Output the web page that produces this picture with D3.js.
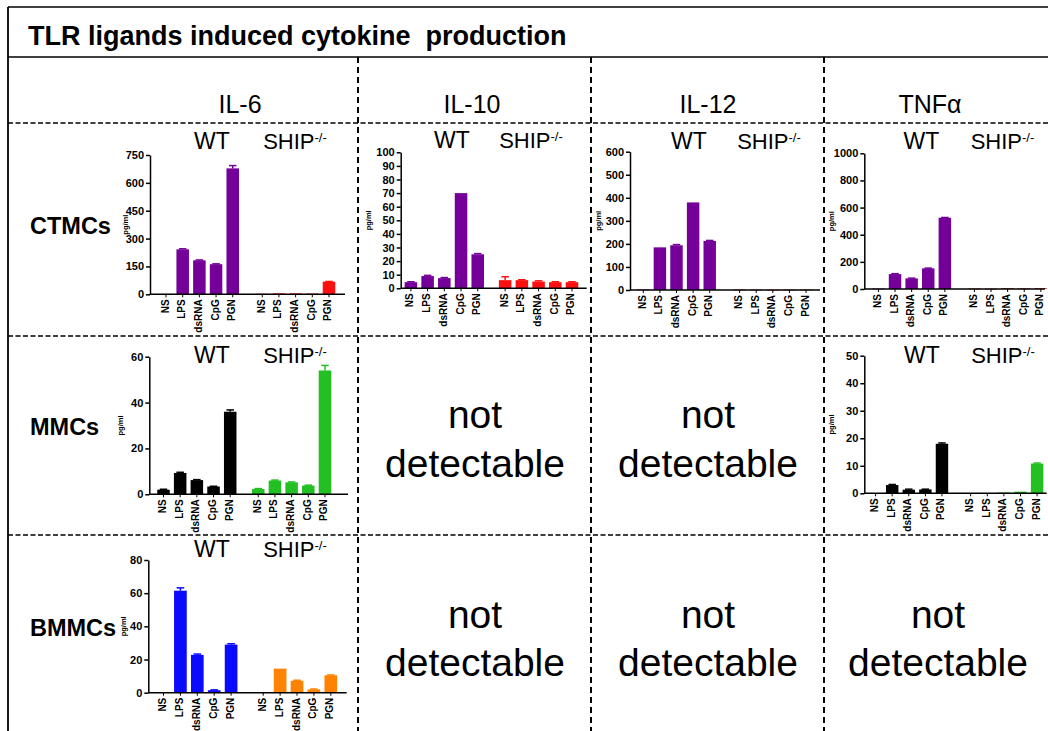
<!DOCTYPE html>
<html><head><meta charset="utf-8">
<script src="https://cdn.jsdelivr.net/npm/d3@7"></script>
<style>
body{margin:0;background:#fff;}
svg{display:block;font-family:"Liberation Sans",Arial,Helvetica,sans-serif;}
</style>
</head><body>
<svg id="chart" width="1048" height="731"></svg>
<script>
// ---------- data ----------
const titleText = "TLR ligands induced cytokine  production";
const cytokines = ["IL-6", "IL-10", "IL-12", "TNFα"];
const cellTypes = ["CTMCs", "MMCs", "BMMCs"];
const stimuli = ["NS", "LPS", "dsRNA", "CpG", "PGN"];
const genotypes = ["WT", "SHIP"];
const genotypeSup = "-/-";
const unitLabel = "pg/ml";
const notDetectable = ["not", "detectable"];

// IL-6, CTMCs
const il6CtmcWT = [2, 242, 183, 162, 678];
const il6CtmcWTErr = [0, 3, 2, 2, 15];
const il6CtmcKO = [3, 5, 5, 4, 68];
const il6CtmcKOErr = [0, 0, 0, 0, 1];
const il6CtmcTicks = [0, 150, 300, 450, 600, 750];

// IL-10, CTMCs
const il10CtmcWT = [4.5, 9, 7.5, 70, 25];
const il10CtmcWTErr = [0.3, 0.5, 0.4, 0, 0.5];
const il10CtmcKO = [6, 6, 5, 4.5, 4.5];
const il10CtmcKOErr = [2.5, 0.3, 0.5, 0.3, 0.3];
const il10CtmcTicks = [0, 10, 20, 30, 40, 50, 60, 70, 80, 90, 100];

// IL-12, CTMCs
const il12CtmcWT = [2, 185, 194, 380, 213];
const il12CtmcWTErr = [0, 0, 3, 0, 2];
const il12CtmcKO = [1.5, 1, 1, 1.5, 1.5];
const il12CtmcKOErr = [0, 0, 0, 0, 0];
const il12CtmcTicks = [0, 100, 200, 300, 400, 500, 600];

// TNFa, CTMCs
const tnfCtmcWT = [3, 110, 78, 152, 525];
const tnfCtmcWTErr = [0, 3, 2, 2, 2];
const tnfCtmcKO = [3, 2, 5, 4, 5];
const tnfCtmcKOErr = [0, 0, 0, 0, 0];
const tnfCtmcTicks = [0, 200, 400, 600, 800, 1000];

// IL-6, MMCs
const il6MmcWT = [2, 9.3, 6.2, 3.4, 36];
const il6MmcWTErr = [0.2, 0.3, 0.2, 0.1, 0.8];
const il6MmcKO = [2.3, 6, 5.2, 3.8, 54];
const il6MmcKOErr = [0.2, 0.2, 0.2, 0.2, 2.2];
const il6MmcTicks = [0, 20, 40, 60];

// TNFa, MMCs
const tnfMmcWT = [0.1, 3, 1.3, 1.4, 18];
const tnfMmcWTErr = [0, 0.2, 0.2, 0.1, 0.3];
const tnfMmcKO = [0.1, 0.1, 0.3, 0.6, 10.8];
const tnfMmcKOErr = [0, 0, 0, 0, 0.2];
const tnfMmcTicks = [0, 10, 20, 30, 40, 50];

// IL-6, BMMCs
const il6BmmcWT = [0.3, 61.5, 22.8, 1.5, 29];
const il6BmmcWTErr = [0, 1.7, 0.5, 0.2, 0.5];
const il6BmmcKO = [0.2, 14.5, 7.2, 2, 10.5];
const il6BmmcKOErr = [0, 0, 0.3, 0.2, 0.2];
const il6BmmcTicks = [0, 20, 40, 60, 80];

// colours
const purple = "#740099", red = "#ff1010", darkRed = "#c00000", black = "#000000",
      green = "#22c022", blue = "#0a0aff", orange = "#ff8200";

// ---------- layout / panel table ----------
const panels = [
  {row:0,col:0, wt:il6CtmcWT, wtErr:il6CtmcWTErr, ko:il6CtmcKO, koErr:il6CtmcKOErr, ticks:il6CtmcTicks, colors:[purple,red],
   x0:150, x1:345, yTop:155, y0:294.3, slotDom:[-0.96,10.73], koOff:5.77, wtX:212, koX:295, labY:149, unitX:125},
  {row:0,col:1, wt:il10CtmcWT, wtErr:il10CtmcWTErr, ko:il10CtmcKO, koErr:il10CtmcKOErr, ticks:il10CtmcTicks, colors:[purple,red],
   x0:400.7, x1:586.7, yTop:152.3, y0:288.3, slotDom:[-0.61,10.52], koOff:5.64, wtX:452, koX:531, labY:148, unitX:368},
  {row:0,col:2, wt:il12CtmcWT, wtErr:il12CtmcWTErr, ko:il12CtmcKO, koErr:il12CtmcKOErr, ticks:il12CtmcTicks, colors:[purple,red],
   x0:630, x1:820, yTop:151.7, y0:290, slotDom:[-0.8,10.64], koOff:5.8, wtX:689, koX:769, labY:149, unitX:598},
  {row:0,col:3, wt:tnfCtmcWT, wtErr:tnfCtmcWTErr, ko:tnfCtmcKO, koErr:tnfCtmcKOErr, ticks:tnfCtmcTicks, colors:[purple,darkRed],
   x0:864.3, x1:1045, yTop:153.3, y0:289, slotDom:[-0.85,10.03], koOff:5.78, wtX:921.5, koX:1002.5, labY:149, unitX:831},
  {row:1,col:0, wt:il6MmcWT, wtErr:il6MmcWTErr, ko:il6MmcKO, koErr:il6MmcKOErr, ticks:il6MmcTicks, colors:[black,green],
   x0:149.3, x1:348, yTop:356.7, y0:494.3, slotDom:[-0.85,11.06], koOff:5.68, wtX:212, koX:295, labY:363, unitX:120},
  {row:1,col:3, wt:tnfMmcWT, wtErr:tnfMmcWTErr, ko:tnfMmcKO, koErr:tnfMmcKOErr, ticks:tnfMmcTicks, colors:[black,green],
   x0:864.3, x1:1046.7, yTop:355.7, y0:493.3, slotDom:[-0.68,10.31], koOff:5.73, wtX:922, koX:1003, labY:363, unitX:831.7},
  {row:2,col:0, wt:il6BmmcWT, wtErr:il6BmmcWTErr, ko:il6BmmcKO, koErr:il6BmmcKOErr, ticks:il6BmmcTicks, colors:[blue,orange],
   x0:148.3, x1:346.7, yTop:560, y0:692.7, slotDom:[-0.9,10.84], koOff:5.9, wtX:212, koX:295, labY:557, unitX:123}
];
const emptyCells = [{row:1,col:1},{row:1,col:2},{row:2,col:1},{row:2,col:2},{row:2,col:3}];

// grid geometry
const gridLeft = 8, gridRight = 1048, gridTop = 7, titleBottom = 57, bottom = 731;
const colEdges = [gridLeft, 358, 591, 824, gridRight];
const rowEdges = [123, 336, 535, bottom];
const headerX = [240, 472, 708, 930];
const headerY = 113;
const rowLabelY = [234, 435, 636];
const ndX = [null, 475, 708, 938];
const ndY = [[null, 428, 477], [null, 628, 676]];

const svg = d3.select("#chart");

// ---------- grid ----------
const grid = svg.append("g").attr("fill","none").attr("stroke","#000");
grid.append("line").attr("x1",gridLeft).attr("x2",gridRight).attr("y1",gridTop).attr("y2",gridTop).attr("stroke-width",1.5);
grid.append("line").attr("x1",gridLeft).attr("x2",gridRight).attr("y1",titleBottom).attr("y2",titleBottom).attr("stroke-width",1.5);
grid.append("line").attr("x1",gridLeft).attr("x2",gridLeft).attr("y1",gridTop).attr("y2",bottom).attr("stroke-width",1.8);
rowEdges.slice(0,3).forEach(y=>{
  grid.append("line").attr("x1",gridLeft).attr("x2",gridRight).attr("y1",y).attr("y2",y)
    .attr("stroke-width",1.4).attr("stroke-dasharray","5,2.5");
});
colEdges.slice(1,4).forEach(x=>{
  grid.append("line").attr("x1",x).attr("x2",x).attr("y1",titleBottom).attr("y2",bottom)
    .attr("stroke-width",2).attr("stroke-dasharray","6,4");
});

// ---------- texts ----------
svg.append("text").attr("x",28).attr("y",45).attr("font-size",27).attr("font-weight","bold")
  .attr("xml:space","preserve").style("white-space","pre").text(titleText);
cytokines.forEach((c,i)=>{
  svg.append("text").attr("x",headerX[i]).attr("y",headerY).attr("text-anchor","middle")
    .attr("font-size",25).text(c);
});
cellTypes.forEach((c,i)=>{
  svg.append("text").attr("x",30).attr("y",rowLabelY[i]).attr("font-size",23.5).attr("font-weight","bold").text(c);
});
emptyCells.forEach(cell=>{
  notDetectable.forEach((t,k)=>{
    svg.append("text").attr("x",ndX[cell.col]).attr("y",ndY[cell.row-1][k+1])
      .attr("text-anchor","middle").attr("font-size",39).text(t);
  });
});

// ---------- panels ----------
panels.forEach(p=>{
  const g = svg.append("g");
  const x = d3.scaleLinear().domain(p.slotDom).range([p.x0, p.x1]);
  const y = d3.scaleLinear().domain([0, d3.max(p.ticks)]).range([p.y0, p.yTop]);
  const step = x(1) - x(0);
  const bw = step * 0.75;
  const bars = [];
  p.wt.forEach((v,i)=>bars.push({v, e:p.wtErr[i], slot:i, color:p.colors[0], label:stimuli[i]}));
  p.ko.forEach((v,i)=>bars.push({v, e:p.koErr[i], slot:i + p.koOff, color:p.colors[1], label:stimuli[i]}));

  // error bars (upper)
  const eb = g.append("g");
  bars.filter(d=>d.e>0).forEach(d=>{
    const cx = x(d.slot);
    eb.append("line").attr("x1",cx).attr("x2",cx).attr("y1",y(d.v)).attr("y2",y(d.v+d.e))
      .attr("stroke",d.color).attr("stroke-width",1.5);
    eb.append("line").attr("x1",cx-bw*0.3).attr("x2",cx+bw*0.3).attr("y1",y(d.v+d.e)).attr("y2",y(d.v+d.e))
      .attr("stroke",d.color).attr("stroke-width",1.5);
  });
  // bars
  g.append("g").selectAll("rect").data(bars).join("rect")
    .attr("x",d=>x(d.slot)-bw/2).attr("y",d=>y(d.v))
    .attr("width",bw).attr("height",d=>Math.max(0.6, y(0)-y(d.v)))
    .attr("fill",d=>d.color);

  // y axis
  const ya = g.append("g").attr("transform",`translate(${p.x0},0)`)
    .call(d3.axisLeft(y).tickValues(p.ticks).tickSize(4).tickSizeOuter(0).tickPadding(2).tickFormat(d3.format("d")));
  ya.select(".domain").attr("stroke-width",1.5);
  ya.selectAll(".tick line").attr("stroke-width",1.5);
  ya.selectAll(".tick text").attr("font-size",11).attr("font-weight","bold").attr("fill","#000")
    .attr("font-family","Liberation Sans, Arial, sans-serif");

  // x axis line
  g.append("line").attr("x1",p.x0).attr("x2",p.x1).attr("y1",p.y0).attr("y2",p.y0)
    .attr("stroke","#000").attr("stroke-width",1.5);
  // x ticks + labels
  const xl = g.append("g").selectAll("g").data(bars).join("g")
    .attr("transform",d=>`translate(${x(d.slot)},${p.y0})`);
  xl.append("line").attr("y1",0).attr("y2",3).attr("stroke","#000").attr("stroke-width",1);
  xl.append("text").attr("transform","translate(-1,5) rotate(-90)").attr("text-anchor","end")
    .attr("dominant-baseline","central").attr("font-size",10).attr("font-weight","bold").text(d=>d.label);

  // unit label
  g.append("text").attr("transform",`translate(${p.unitX},${(p.y0+p.yTop)/2}) rotate(-90)`)
    .attr("text-anchor","middle").attr("dominant-baseline","central")
    .attr("font-size",7.5).attr("font-weight","bold").text(unitLabel);

  // genotype labels
  g.append("text").attr("x",p.wtX).attr("y",p.labY).attr("text-anchor","middle").attr("font-size",23).text(genotypes[0]);
  const ko = g.append("text").attr("x",p.koX).attr("y",p.labY).attr("text-anchor","middle").attr("font-size",22);
  ko.append("tspan").text(genotypes[1]);
  ko.append("tspan").attr("font-size",13).attr("dy",-7).text(genotypeSup);
});
</script>
</body></html>
